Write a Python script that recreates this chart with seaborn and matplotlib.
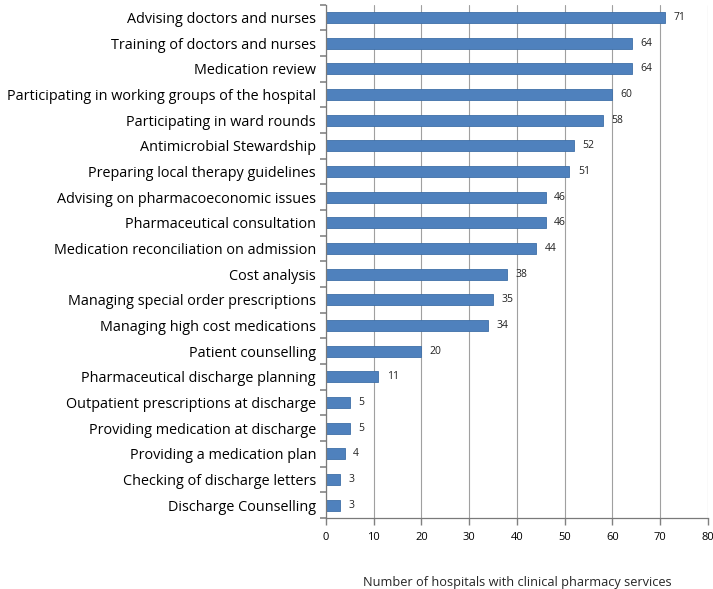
import matplotlib
matplotlib.use("Agg")
import matplotlib.pyplot as plt
import seaborn as sns
import pandas as pd
import numpy as np

categories = [
    "Advising doctors and nurses",
    "Training of doctors and nurses",
    "Medication review",
    "Participating in working groups of the hospital",
    "Participating in ward rounds",
    "Antimicrobial Stewardship",
    "Preparing local therapy guidelines",
    "Advising on pharmacoeconomic issues",
    "Pharmaceutical consultation",
    "Medication reconciliation on admission",
    "Cost analysis",
    "Managing special order prescriptions",
    "Managing high cost medications",
    "Patient counselling",
    "Pharmaceutical discharge planning",
    "Outpatient prescriptions at discharge",
    "Providing medication at discharge",
    "Providing a medication plan",
    "Checking of discharge letters",
    "Discharge Counselling",
]
values = [71, 64, 64, 60, 58, 52, 51, 46, 46, 44, 38, 35, 34, 20, 11, 5, 5, 4, 3, 3]
x_ticks = [0, 10, 20, 30, 40, 50, 60, 70, 80]
x_label = "Number of hospitals with clinical pharmacy services"

df = pd.DataFrame({"category": categories, "value": values})

sns.set_style("white")
plt.rcParams["font.family"] = ["Open Sans", "DejaVu Sans"]

fig = plt.figure(figsize=(7.13, 5.89), dpi=100)
ax = fig.add_axes([0.457, 0.1205, 0.536, 0.8715])

sns.barplot(data=df, x="value", y="category", orient="h", ax=ax,
            color="#4F81BD", edgecolor="#3E6FA8", linewidth=0.6,
            width=0.43, saturation=1)

for c in ax.containers:
    ax.bar_label(c, labels=[str(v) for v in values], padding=6, fontsize=7.5, color="#222222")

ax.set_xlim(0, 80)
ax.set_ylim(len(categories) - 0.5, -0.5)
ax.set_xticks(x_ticks)
ax.set_xticklabels([str(t) for t in x_ticks], fontsize=8)
ax.yaxis.set_tick_params(which="major", left=True, length=0, labelsize=10.4, pad=7, labelcolor="black")
ax.xaxis.set_tick_params(which="major", bottom=True, length=5, width=1.0, color="#808080", direction="out",
                         labelsize=8, pad=5, labelcolor="black")

# category boundary tick marks on the left axis
n = len(categories)
for b in range(n + 1):
    ax.plot([-0.014, 0], [b - 0.5, b - 0.5], transform=ax.get_yaxis_transform(),
            color="#7a7a7a", linewidth=1.1, clip_on=False, zorder=5, solid_capstyle="butt")

ax.set_xlabel(x_label, fontsize=9.2, labelpad=24)
ax.set_ylabel("")

ax.grid(axis="x", color="#A0A0A0", linewidth=0.8)
ax.set_axisbelow(True)
for s in ["top", "right"]:
    ax.spines[s].set_visible(False)
for s in ["left", "bottom"]:
    ax.spines[s].set_color("#7a7a7a")
    ax.spines[s].set_linewidth(0.9)

fig.savefig("out.png", dpi=100)
